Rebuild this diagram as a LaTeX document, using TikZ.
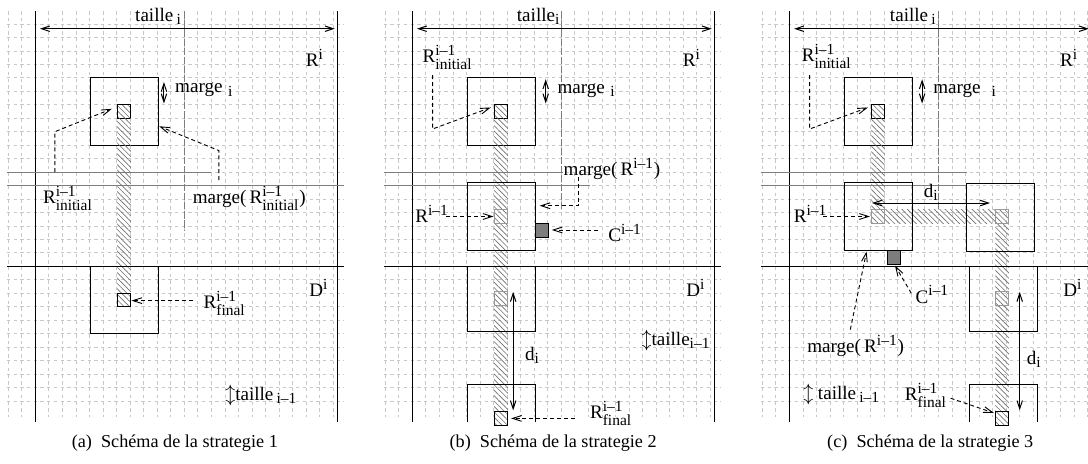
\documentclass[tikz,border=0pt]{standalone}
\usepackage{amsmath}
\usepackage{fontspec}
\setmainfont{Liberation Serif}
\usetikzlibrary{arrows.meta,patterns.meta}
\DeclareMathSizes{10.5}{10.5}{8.5}{6.5}
\definecolor{GridGrey}{RGB}{200,200,200}
\definecolor{LineGrey}{RGB}{125,125,125}
\definecolor{CellGrey}{RGB}{125,125,125}
\definecolor{HatchGrey}{RGB}{110,110,110}
\newcommand{\supl}[2]{$\text{#1}^{\text{#2}}$}
\newcommand{\subsupl}[3]{$\text{#1}^{\text{#2}}_{\text{#3}}$}

\begin{document}
\begin{tikzpicture}[x=7.45pt, y=-7.4pt,
  gridline/.style={GridGrey, line width=0.4pt, dash pattern=on 1.8pt off 1.9pt},
  frameline/.style={black, line width=0.6pt},
  greyline/.style={LineGrey, line width=0.6pt},
  midline/.style={LineGrey, line width=0.5pt, dash pattern=on 4pt off 1pt},
  bigsq/.style={draw, line width=0.6pt},
  smallsq/.style={draw, line width=0.6pt},
  ghostsq/.style={draw=gray!80, line width=0.5pt},
  csq/.style={draw, fill=CellGrey, line width=0.6pt},
  hatch/.style={pattern={Lines[angle=-45,distance=2.1pt,line width=0.35pt]}, pattern color=HatchGrey},
  dasharrow/.style={-{Straight Barb[length=5pt,width=3.2pt]}, line width=0.5pt, dash pattern=on 2.2pt off 1.6pt},
  dimarrow/.style={{Straight Barb[length=4.5pt,width=3pt]}-{Straight Barb[length=4.5pt,width=3pt]}, line width=0.55pt},
  lab/.style={anchor=west, inner sep=0pt, font=\fontsize{10.5}{12}\selectfont},
  capt/.style={inner sep=0pt}]
  \useasboundingbox (-1.6,-1.784) rectangle (78.69,32.64);
  \clip (-1.6,-1.784) rectangle (78.69,32.64);

  % common part of the three panels
  \foreach \dx/\p in {0/a,27.82/b,55.65/c}{
    \begin{scope}[shift={(\dx,0)}]
      % grid
      \foreach \gx in {-1,...,23}
        \draw[gridline] (\gx,-0.95) -- (\gx,29.2);
      \foreach \gy in {0,...,28}
        \draw[gridline] (-1.1,\gy) -- (23.8,\gy);
      % frame of R^i and D^i
      \draw[frameline] (1,-0.95) -- (1,29.6);
      \draw[frameline] (23.3,-0.95) -- (23.3,29.6);
      \draw[frameline] (-1.1,18) -- (23.8,18);
      \draw[dimarrow] (1.35,0.35) -- (23.1,0.35);
      \node[lab] (Ri-\p) at (20.95,2.5) {\supl{R}{i}};
      \node[lab] (Di-\p) at (21.2,19.6) {\supl{D}{i}};
      % first square
      \draw[bigsq] (5.1,3.95) rectangle (10.1,9);
      \draw[smallsq,hatch] (7.05,6) rectangle (8.05,7);
    \end{scope}
  }

  % (a) strategie 1
  \begin{scope}
    \draw[greyline] (-1.1,11) -- (14,11);
    \draw[greyline] (-1.1,12) -- (23.8,12);
    \draw[midline] (12,-0.95) -- (12,15.3);
    \fill[hatch] (7.05,7) rectangle (8.05,20);
    \draw[bigsq] (5.1,18) rectangle (10.1,23);
    \draw[smallsq,hatch] (7.05,20) rectangle (8.05,21);
    \draw[dimarrow] (10.5,4.3) -- (10.5,5.9);

    \node[lab] (tailleA) at (8.35,-0.55) {taille\,$_{\text{i}}$};
    \node[lab] (margeA) at (11.3,4.9) {marge\hspace{3pt}$_{\text{i}}$};
    \node[lab] (rinitA) at (1.55,12.95) {\subsupl{R}{i--1}{initial}};
    \node[lab] (mrinitA) at (12.6,12.95) {marge(\,\subsupl{R}{i--1}{initial})};
    \node[lab] (rfinA) at (13.4,20.75) {\subsupl{R}{i--1}{final}};
    \node[lab] (tprevA) at (15.0,27.6) {$\updownarrow$taille\,$_{\text{i--1}}$};
    \node[capt] (capA) at (11.3,31.15) {(a)\enspace Schéma de la strategie 1};

    \coordinate (a1) at (2.45,11);
    \coordinate (a2) at (2.45,8);
    \coordinate (a3) at (6.65,6.3);
    \draw[dasharrow] (a1) -- (a2) -- (a3);
    \coordinate (a4) at (14.55,11.6);
    \coordinate (a5) at (14.55,9.4);
    \coordinate (a6) at (10.15,7.6);
    \draw[dasharrow] (a4) -- (a5) -- (a6);
    \coordinate (a7) at (12.65,20.55);
    \coordinate (a8) at (8.1,20.55);
    \draw[dasharrow] (a7) -- (a8);
  \end{scope}

  % (b) strategie 2
  \begin{scope}[shift={(27.82,0)}]
    \draw[greyline] (-1.1,11) -- (12.1,11);
    \draw[greyline] (-1.1,12) -- (14.1,12);
    \draw[midline] (12,-0.95) -- (12,13.8);
    \fill[hatch] (7.05,7) rectangle (8.05,28.8);
    \draw[bigsq] (5.1,11.8) rectangle (10.1,16.85);
    \draw[bigsq] (5.1,18) rectangle (10.1,22.85);
    \draw[bigsq] (5.1,29.6) -- (5.1,26.8) -- (10.1,26.8) -- (10.1,29.6);
    \draw[ghostsq] (7.05,13.8) rectangle (8.05,14.8);
    \draw[ghostsq] (7.05,19.9) rectangle (8.05,20.9);
    \draw[smallsq,hatch] (7.05,28.8) rectangle (8.05,29.8);
    \draw[csq] (10.1,14.8) rectangle (11.05,15.85);
    \draw[dimarrow] (10.85,4.1) -- (10.85,5.9);
    \draw[dimarrow] (8.45,19.9) -- (8.45,28.7);

    \node[lab] (tailleB) at (8.7,-0.55) {taille$_{\text{i}}$};
    \node[lab] (margeB) at (11.7,4.95) {marge\hspace{3pt}$_{\text{i}}$};
    \node[lab] (rinitB) at (1.75,2.5) {\subsupl{R}{i--1}{initial}};
    \node[lab] (mrB) at (12.15,10.75) {marge(\,\supl{R}{i--1})};
    \node[lab] (rB) at (1.2,14.1) {\supl{R}{i--1}};
    \node[lab] (cB) at (15.45,15.5) {\supl{C}{i--1}};
    \node[lab] (diB) at (9.3,24.6) {$\text{d}_{\text{i}}$};
    \node[lab] (rfinB) at (14.1,28.9) {\subsupl{R}{i--1}{final}};
    \node[lab] (tprevB) at (17.9,23.5) {$\updownarrow$taille$_{\text{i--1}}$};
    \node[capt] (capB) at (11.4,31.15) {(b)\enspace Schéma de la strategie 2};

    \coordinate (b1) at (2.5,3.8);
    \coordinate (b2) at (2.5,7.8);
    \coordinate (b3) at (6.8,6.2);
    \draw[dasharrow] (b1) -- (b2) -- (b3);
    \coordinate (b4) at (13.25,11.35);
    \coordinate (b5) at (13.25,13.5);
    \coordinate (b6) at (10.4,13.5);
    \draw[dasharrow] (b4) -- (b5) -- (b6);
    \coordinate (b7) at (3.5,14.3);
    \coordinate (b8) at (7.0,14.3);
    \draw[dasharrow] (b7) -- (b8);
    \coordinate (b9) at (14.7,15.3);
    \coordinate (b10) at (11.3,15.3);
    \draw[dasharrow] (b9) -- (b10);
    \coordinate (b11) at (13.0,29.3);
    \coordinate (b12) at (8.3,29.3);
    \draw[dasharrow] (b11) -- (b12);
  \end{scope}

  % (c) strategie 3
  \begin{scope}[shift={(55.65,0)}]
    \draw[greyline] (-1.1,11) -- (14.1,11);
    \draw[greyline] (-1.1,12) -- (14.1,12);
    \draw[midline] (12,-0.95) -- (12,13.8);
    \fill[hatch] (7.05,7) rectangle (8.05,14.8);
    \fill[hatch] (8.05,13.8) rectangle (17.2,14.8);
    \fill[hatch] (16.2,14.8) rectangle (17.2,28.8);
    \draw[bigsq] (5.1,11.8) rectangle (10.1,16.85);
    \draw[bigsq] (14.1,11.85) rectangle (19.1,16.9);
    \draw[bigsq] (14.3,18) rectangle (19.3,22.85);
    \draw[bigsq] (14.3,29.6) -- (14.3,26.8) -- (19.3,26.8) -- (19.3,29.6);
    \draw[ghostsq] (7.05,13.8) rectangle (8.05,14.8);
    \draw[ghostsq] (16.2,13.8) rectangle (17.2,14.8);
    \draw[ghostsq] (16.2,19.9) rectangle (17.2,20.9);
    \draw[smallsq,hatch] (16.2,28.8) rectangle (17.2,29.8);
    \draw[csq] (8.25,16.85) rectangle (9.2,17.9);
    \draw[dimarrow] (10.8,4.1) -- (10.8,5.9);
    \draw[dimarrow] (7.1,13.3) -- (15.8,13.3);
    \draw[dimarrow] (18.0,19.9) -- (18.0,28.7);

    \node[lab] (tailleC) at (8.4,-0.55) {taille\,$_{\text{i}}$};
    \node[lab] (margeC) at (11.6,4.95) {marge\hspace{6pt}$_{\text{i}}$};
    \node[lab] (rinitC) at (1.9,2.4) {\subsupl{R}{i--1}{initial}};
    \node[lab] (rC) at (1.3,14.1) {\supl{R}{i--1}};
    \node[lab] (diC) at (10.9,12.5) {$\text{d}_{\text{i}}$};
    \node[lab] (cC) at (10.3,20.1) {\supl{C}{i--1}};
    \node[lab] (mrC) at (2.3,23.9) {marge(\,\supl{R}{i--1})};
    \node[lab] (di2C) at (18.5,24.9) {$\text{d}_{\text{i}}$};
    \node[lab] (rfinC) at (9.5,27.6) {\subsupl{R}{i--1}{final}};
    \node[lab] (tprevC) at (2.0,27.5) {$\updownarrow$ taille\,$_{\text{i--1}}$};
    \node[capt] (capC) at (11.4,31.15) {(c)\enspace Schéma de la strategie 3};

    \coordinate (c1) at (2.5,3.8);
    \coordinate (c2) at (2.5,7.8);
    \coordinate (c3) at (6.8,6.2);
    \draw[dasharrow] (c1) -- (c2) -- (c3);
    \coordinate (c4) at (3.5,14.3);
    \coordinate (c5) at (6.95,14.3);
    \draw[dasharrow] (c4) -- (c5);
    \coordinate (c6) at (10.0,20.0);
    \coordinate (c7) at (8.8,17.95);
    \draw[dasharrow] (c6) -- (c7);
    \coordinate (c8) at (5.5,22.7);
    \coordinate (c9) at (6.7,16.9);
    \draw[dasharrow] (c8) -- (c9);
    \coordinate (c10) at (12.9,27.8);
    \coordinate (c11) at (16.1,28.9);
    \draw[dasharrow] (c10) -- (c11);
  \end{scope}
\end{tikzpicture}
\end{document}
